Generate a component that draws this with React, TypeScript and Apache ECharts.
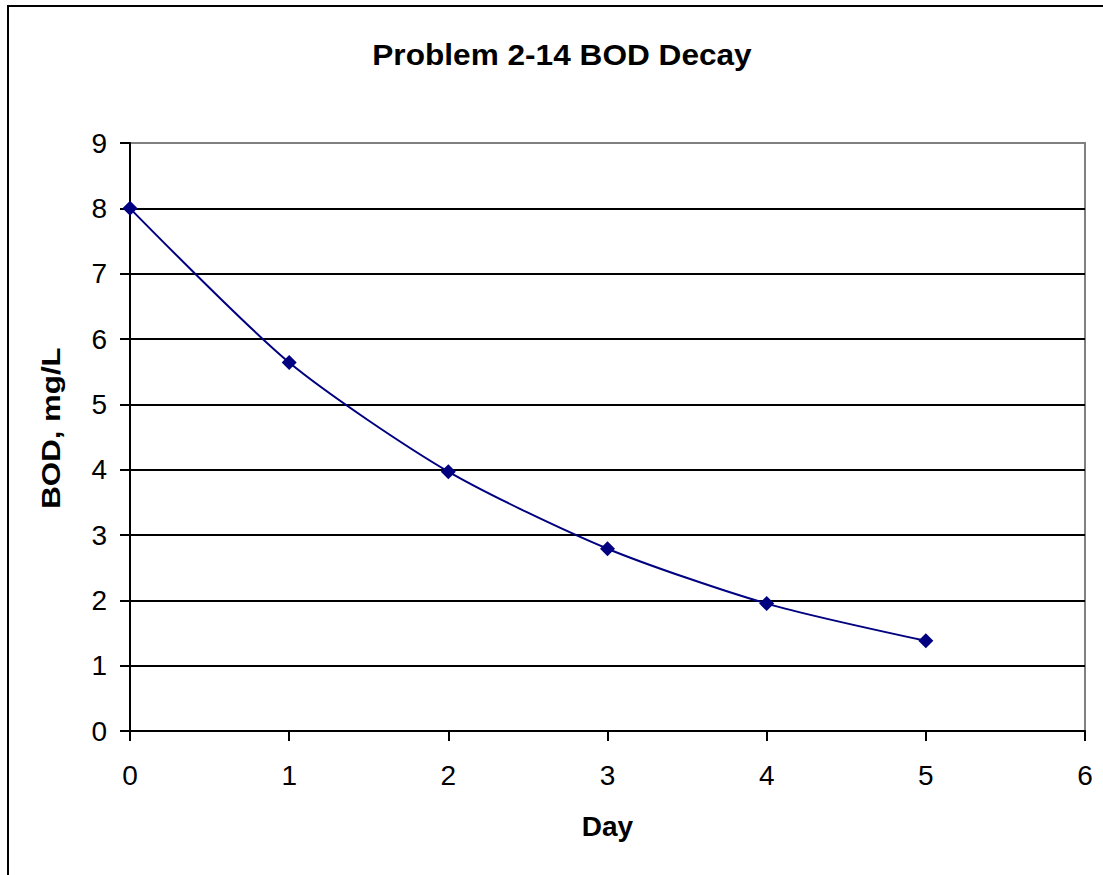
import React, { useEffect, useRef } from "react";
import * as echarts from "echarts";

const titleText = "Problem 2-14 BOD Decay";
const xAxisName = "Day";
const yAxisName = "BOD, mg/L";
const days = [0, 1, 2, 3, 4, 5];
const bod = [8.0, 5.64, 3.97, 2.79, 1.95, 1.38];

const FONT = "'Liberation Sans', Arial, Helvetica, sans-serif";

export default function App() {
  const ref = useRef<HTMLDivElement>(null);
  useEffect(() => {
    document.body.style.margin = "0";
    if (!ref.current) return;
    const chart = echarts.init(ref.current, undefined, { renderer: "svg" });
    const splitColors = [
      "#000000", "#000000", "#000000", "#000000", "#000000",
      "#000000", "#000000", "#000000", "#000000", "#808080",
    ];
    chart.setOption({
      animation: false,
      backgroundColor: "#ffffff",
      graphic: [
        {
          type: "rect",
          shape: { x: 8, y: 6, width: 1140, height: 900 },
          style: { fill: "none", stroke: "#000", lineWidth: 2 },
          silent: true,
        },
        {
          type: "text",
          x: 562,
          y: 55,
          scaleX: 1.09,
          style: {
            text: titleText,
            font: "bold 29px " + FONT,
            fill: "#000",
            align: "center",
            verticalAlign: "middle",
          },
          silent: true,
        },
        {
          type: "text",
          x: 51,
          y: 428,
          rotation: Math.PI / 2,
          scaleX: 1.25,
          style: {
            text: yAxisName,
            font: "bold 25px " + FONT,
            fill: "#000",
            align: "center",
            verticalAlign: "middle",
          },
          silent: true,
        },
      ],
      grid: {
        left: 130,
        top: 143,
        right: 18,
        bottom: 144,
        show: true,
        borderColor: "#808080",
        borderWidth: 2,
        backgroundColor: "transparent",
      },
      xAxis: {
        type: "value",
        min: 0,
        max: 6,
        interval: 1,
        name: xAxisName,
        nameLocation: "middle",
        nameGap: 81,
        nameTextStyle: { fontFamily: FONT, fontSize: 28, fontWeight: "bold", color: "#000" },
        axisLine: { show: true, onZero: false, lineStyle: { color: "#000", width: 2 } },
        axisTick: { show: true, inside: false, length: 10, lineStyle: { color: "#000", width: 2 } },
        axisLabel: { fontFamily: FONT, fontSize: 28, color: "#000", margin: 30 },
        splitLine: { show: false },
      },
      yAxis: {
        type: "value",
        min: 0,
        max: 9,
        interval: 1,
        axisLine: { show: true, onZero: false, lineStyle: { color: "#000", width: 2 } },
        axisTick: { show: true, inside: false, length: 10, lineStyle: { color: "#000", width: 2 } },
        axisLabel: { fontFamily: FONT, fontSize: 28, color: "#000", margin: 23 },
        splitLine: { show: true, lineStyle: { color: splitColors, width: 2 } },
      },
      series: [
        {
          type: "line",
          data: days.map((d, i) => [d, bod[i]]),
          smooth: 0.25,
          symbol: "diamond",
          symbolSize: 15,
          itemStyle: { color: "#000080" },
          lineStyle: { color: "#000080", width: 2 },
          z: 5,
        },
      ],
    });
    return () => chart.dispose();
  }, []);
  return <div ref={ref} style={{ width: 1103, height: 875 }} />;
}
